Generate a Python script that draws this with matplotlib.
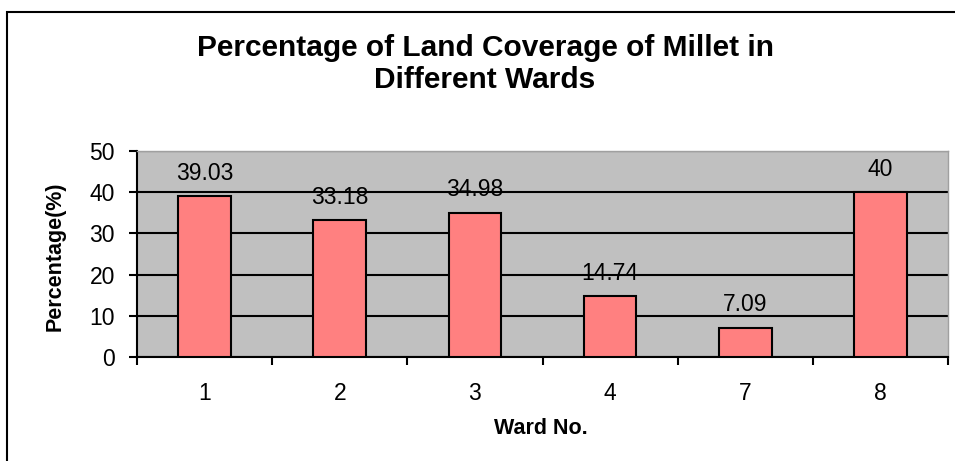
import matplotlib
matplotlib.use("Agg")
import matplotlib.pyplot as plt
from matplotlib.patches import Rectangle
import numpy as np

plt.rcParams['font.family'] = ['Liberation Sans', 'DejaVu Sans']

wards = ["1", "2", "3", "4", "7", "8"]
values = [39.03, 33.18, 34.98, 14.74, 7.09, 40]
value_labels = ["39.03", "33.18", "34.98", "14.74", "7.09", "40"]
yticks = [0, 10, 20, 30, 40, 50]

W, H = 955, 461
fig = plt.figure(figsize=(W / 100, H / 100), dpi=100)
fig.patch.set_facecolor("white")

# outer chart border
fig.add_artist(Rectangle((7 / W, -0.05), 1.2, 1 - 12 / H + 0.05, transform=fig.transFigure,
                         fill=False, edgecolor="black", linewidth=1.5))

left, right, top, bottom = 137 / W, 948 / W, 1 - 151 / H, 1 - 357 / H
ax = fig.add_axes([left, bottom, right - left, top - bottom])
ax.set_facecolor("#C0C0C0")

x = np.arange(len(wards))
ax.set_axisbelow(True)
ax.yaxis.grid(True, color="black", linewidth=1.5)
ax.bar(x, values, width=0.39, color="#FF8080", edgecolor="black", linewidth=1.5, zorder=3)

for xi, v, lab in zip(x, values, value_labels):
    ax.annotate(lab, (xi, v), xytext=(0, 23), textcoords="offset pixels",
                ha="center", va="center", fontsize=16.5, color="black")

ax.set_xlim(-0.5, len(wards) - 0.5)
ax.set_ylim(0, 50)
ax.set_yticks(yticks)
ax.set_yticklabels([str(t) for t in yticks], fontsize=16.5)
ax.set_xticks(x)
ax.set_xticklabels(wards, fontsize=16.5)
ax.tick_params(axis="x", length=0, pad=18)
ax.set_xticks(np.arange(-0.5, len(wards), 1.0), minor=True)
ax.tick_params(axis="x", which="minor", length=6, width=1.5, color="black", direction="out")
ax.tick_params(axis="y", length=6, width=1.5, direction="out", pad=10)

for s in ["left", "bottom"]:
    ax.spines[s].set_color("black")
    ax.spines[s].set_linewidth(1.5)
for s in ["top", "right"]:
    ax.spines[s].set_color("#A0A0A0")
    ax.spines[s].set_linewidth(1.0)

fig.text(541 / W, 1 - 428 / H, "Ward No.", ha="center", va="center",
         fontsize=15.5, fontweight="bold")
fig.text(55 / W, 1 - 256 / H, "Percentage(%)", ha="center", va="center", rotation=90,
         fontsize=15.5, fontweight="bold")

fig.text(485 / W, 1 - 64 / H, "Percentage of Land Coverage of Millet in\nDifferent Wards",
         ha="center", va="center", fontsize=21.5, fontweight="bold", linespacing=1.2)

fig.savefig("out.png", dpi=100)
